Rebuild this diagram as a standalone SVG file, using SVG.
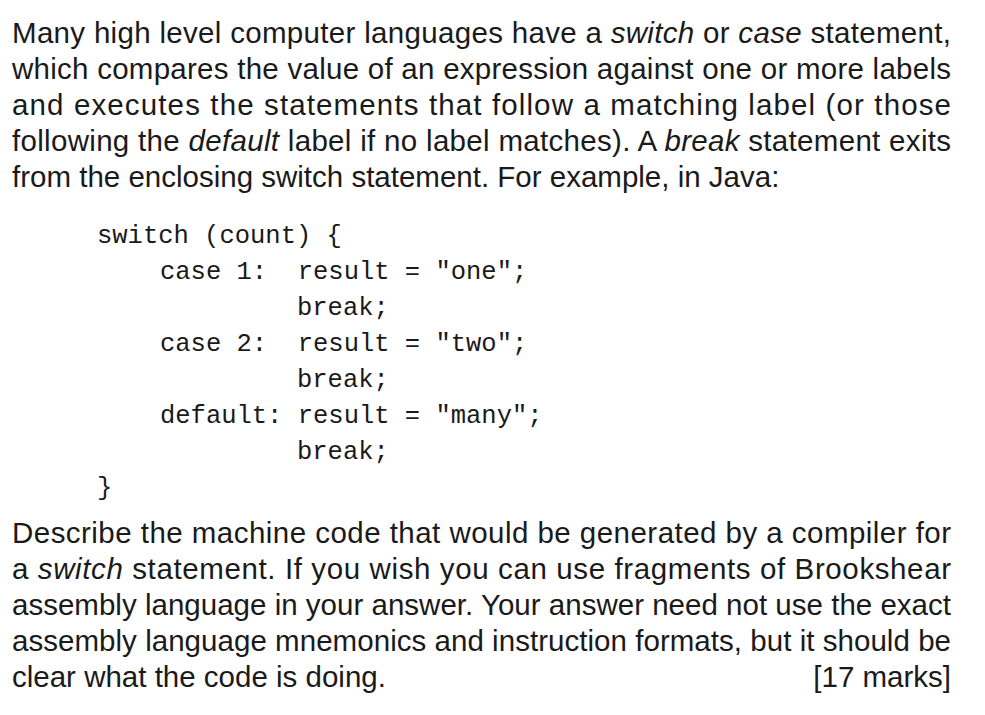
<svg xmlns="http://www.w3.org/2000/svg" width="985" height="715" viewBox="0 0 985 715">
<style>
.t{font-family:"Liberation Sans",Arial,sans-serif;font-size:29.5px;fill:#1a1a1a}
.c{font-family:"Liberation Mono","DejaVu Sans Mono",monospace;font-size:25.5px;fill:#1a1a1a;white-space:pre}
.i{font-style:italic}
</style>
<rect width="985" height="715" fill="#fff"/>
<g id="intro">
<text class="t" x="12" y="43" textLength="939" lengthAdjust="spacing">Many high level computer languages have a <tspan class="i">switch</tspan> or <tspan class="i">case</tspan> statement,</text>
<text class="t" x="12" y="79" textLength="939" lengthAdjust="spacing">which compares the value of an expression against one or more labels</text>
<text class="t" x="12" y="115" textLength="939" lengthAdjust="spacing">and executes the statements that follow a matching label (or those</text>
<text class="t" x="12" y="151" textLength="939" lengthAdjust="spacing">following the <tspan class="i">default</tspan> label if no label matches). A <tspan class="i">break</tspan> statement exits</text>
<text class="t" x="12" y="187">from the enclosing switch statement. For example, in Java:</text>
</g>
<g id="code">
<text class="c" x="97" y="243">switch (count) {</text>
<text class="c" x="160" y="279">case 1:  result = "one";</text>
<text class="c" x="297" y="315">break;</text>
<text class="c" x="160" y="351">case 2:  result = "two";</text>
<text class="c" x="297" y="387">break;</text>
<text class="c" x="160" y="423">default: result = "many";</text>
<text class="c" x="297" y="459">break;</text>
<text class="c" x="97" y="495">}</text>
</g>
<g id="question">
<text class="t" x="12" y="543" textLength="939" lengthAdjust="spacing">Describe the machine code that would be generated by a compiler for</text>
<text class="t" x="12" y="579" textLength="939" lengthAdjust="spacing">a <tspan class="i">switch</tspan> statement. If you wish you can use fragments of Brookshear</text>
<text class="t" x="12" y="615" textLength="939" lengthAdjust="spacing">assembly language in your answer. Your answer need not use the exact</text>
<text class="t" x="12" y="651" textLength="939" lengthAdjust="spacing">assembly language mnemonics and instruction formats, but it should be</text>
<text class="t" x="12" y="687">clear what the code is doing.</text>
<text class="t" x="951" y="687" text-anchor="end">[17 marks]</text>
</g>
</svg>
